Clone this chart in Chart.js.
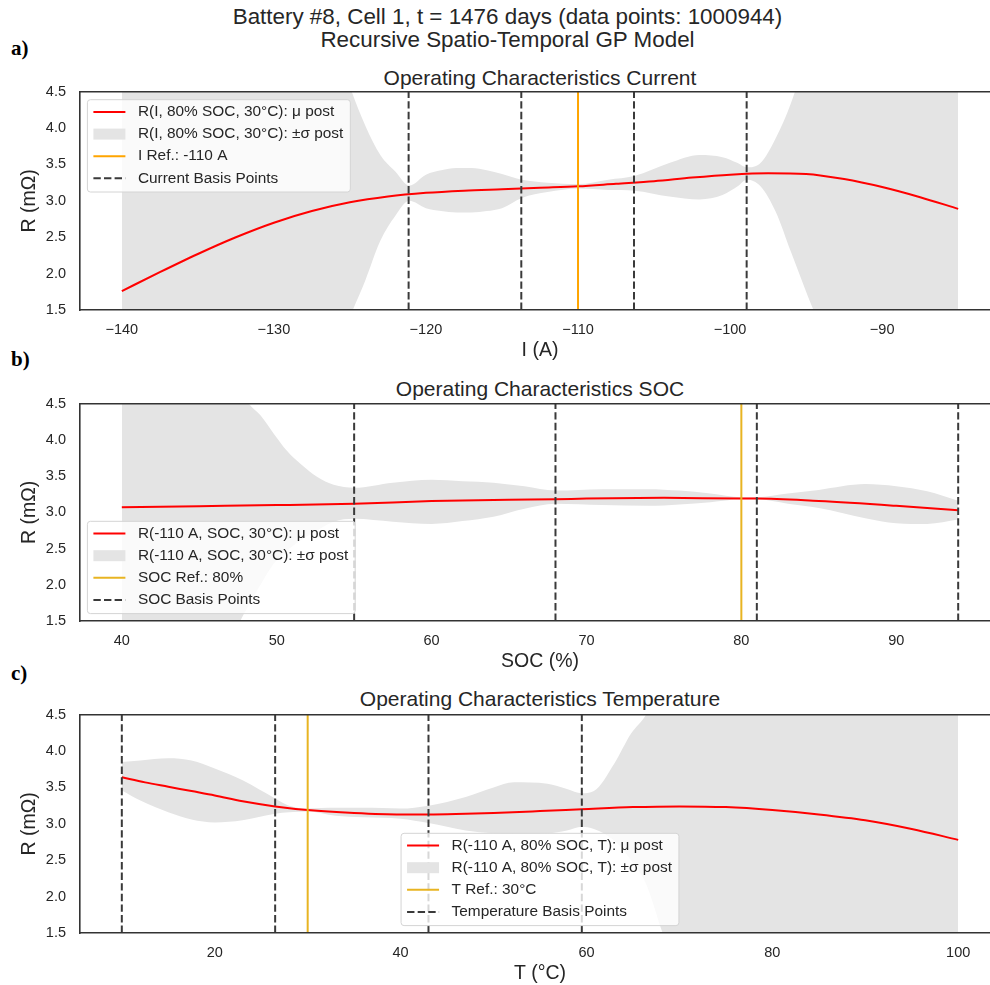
<!DOCTYPE html>
<html>
<head>
<meta charset="utf-8">
<script src="https://cdn.jsdelivr.net/npm/chart.js@4.4.0/dist/chart.umd.min.js"></script>
<style>
  html, body { margin: 0; padding: 0; background: #fff; overflow: hidden; width: 990px; height: 985px; }
  .t { position: absolute; font-family: "Liberation Sans", Arial, sans-serif; color: #262626; white-space: nowrap; }
  .lab { position: absolute; font-family: "Liberation Serif", "Times New Roman", serif; font-weight: bold; color: #000; font-size: 21px; line-height: 21px; }
  canvas { position: absolute; left: 0; }
</style>
</head>
<body>
<div class="t" style="left:0;width:1015px;top:5px;text-align:center;font-size:22.4px;line-height:23px">Battery #8, Cell 1, t = 1476 days (data points: 1000944)<br>Recursive Spatio-Temporal GP Model</div>
<div class="lab" style="left:11px;top:38px">a)</div>
<div class="lab" style="left:11px;top:349px">b)</div>
<div class="lab" style="left:11px;top:663px">c)</div>
<div class="t" style="left:80px;width:920px;top:67px;text-align:center;font-size:21px;line-height:21px">Operating Characteristics Current</div>
<div class="t" style="left:80px;width:920px;top:378px;text-align:center;font-size:21px;line-height:21px">Operating Characteristics SOC</div>
<div class="t" style="left:80px;width:920px;top:688px;text-align:center;font-size:21px;line-height:21px">Operating Characteristics Temperature</div>
<canvas id="chA" width="1000" height="295" style="top:69px"></canvas>
<canvas id="chB" width="1000" height="294" style="top:381px"></canvas>
<canvas id="chC" width="1000" height="295" style="top:692px"></canvas>
<script>
(function () {
  "use strict";

  // a) current
  var aX = [-140, -137.5, -135, -132.5, -130, -127.5, -125, -122.5, -120, -117.5, -115, -112.5, -110, -107.5, -105, -102.5, -100, -97.5, -95, -92.5, -90, -87.5, -85];
  var aMean = [1.76, 2.02, 2.27, 2.50, 2.70, 2.86, 2.98, 3.06, 3.11, 3.14, 3.16, 3.18, 3.20, 3.235, 3.27, 3.32, 3.36, 3.38, 3.37, 3.30, 3.19, 3.05, 2.89];
  var aBandX = [-140, -132, -128, -126, -125, -124, -123, -122, -121.1, -120, -119, -118, -117, -116, -115, -113.7, -112, -110, -108, -106.3, -104, -102, -100.5, -99.5, -98.9, -98, -97, -96, -95, -94, -90, -85];
  var aUpper = [20, 10, 6.6, 5.2, 4.57, 4.04, 3.63, 3.40, 3.21, 3.36, 3.42, 3.45, 3.45, 3.42, 3.37, 3.29, 3.25, 3.23, 3.29, 3.34, 3.52, 3.63, 3.60, 3.52, 3.46, 3.52, 3.86, 4.34, 5.0, 5.8, 9, 13];
  var aLower = [-14, -4, -0.6, 0.8, 1.4, 1.90, 2.45, 2.80, 3.00, 2.90, 2.86, 2.84, 2.84, 2.86, 2.90, 3.04, 3.12, 3.17, 3.15, 3.14, 3.06, 3.02, 3.08, 3.20, 3.29, 3.20, 2.85, 2.30, 1.75, 1.2, -2, -6];
  var aBasis = [-121.14, -113.73, -106.32, -98.91];
  var aRef = -110;
  var aTicks = [-140, -130, -120, -110, -100, -90];

  // b) SOC
  var bX = [40, 45, 50, 55, 60, 65, 68, 70, 75, 80, 81, 85, 90, 94];
  var bMean = [3.07, 3.085, 3.10, 3.12, 3.155, 3.175, 3.18, 3.19, 3.20, 3.19, 3.19, 3.155, 3.09, 3.03];
  var bBandX = [40, 45, 47, 47.65, 48.2, 48.95, 49.8, 50.66, 51.53, 52.6, 53.68, 55, 57.5, 60, 62, 64, 66, 68, 71, 74, 76, 78, 80, 81, 83, 85, 88, 90, 92, 94];
  var bUpper = [8, 5.5, 4.85, 4.68, 4.5, 4.34, 4.09, 3.85, 3.67, 3.49, 3.38, 3.34, 3.41, 3.45, 3.43, 3.41, 3.36, 3.30, 3.32, 3.32, 3.30, 3.26, 3.21, 3.21, 3.26, 3.31, 3.39, 3.36, 3.29, 3.16];
  var bLower = [-2, 0.4, 1.2, 1.5, 1.72, 2.0, 2.29, 2.47, 2.61, 2.75, 2.87, 2.91, 2.87, 2.84, 2.88, 2.94, 3.05, 3.12, 3.10, 3.09, 3.11, 3.14, 3.18, 3.18, 3.12, 3.06, 2.92, 2.85, 2.84, 2.90];
  var bBasis = [55, 68, 81, 94];
  var bRef = 80;
  var bTicks = [40, 50, 60, 70, 80, 90];

  // c) temperature
  var cX = [10, 12.5, 15, 17.5, 20, 23, 26.5, 30, 35, 40, 43, 47, 50, 55, 59.5, 65, 70, 75, 80, 85, 90, 95, 100];
  var cMean = [3.64, 3.57, 3.51, 3.45, 3.39, 3.31, 3.24, 3.19, 3.15, 3.13, 3.13, 3.14, 3.15, 3.175, 3.20, 3.23, 3.24, 3.23, 3.19, 3.13, 3.05, 2.93, 2.78];
  var cBandX = [10, 12, 15, 17.5, 20, 23, 26.5, 28, 30, 33, 36, 40, 43, 47, 50, 52.2, 55.8, 57.9, 59.5, 60.8, 63, 64.8, 66.4, 68.2, 70, 80, 100];
  var cUpper = [3.85, 3.87, 3.90, 3.87, 3.76, 3.60, 3.35, 3.25, 3.21, 3.22, 3.22, 3.21, 3.25, 3.37, 3.50, 3.57, 3.55, 3.48, 3.42, 3.45, 3.83, 4.24, 4.5, 5.0, 5.6, 9, 15];
  var cLower = [3.46, 3.32, 3.16, 3.06, 3.02, 3.05, 3.14, 3.16, 3.17, 3.11, 3.09, 3.07, 3.01, 2.91, 2.87, 2.86, 2.87, 2.91, 2.96, 2.93, 2.77, 2.50, 2.18, 1.5, 0.9, -2, -9];
  var cBasis = [10, 26.5, 43, 59.5];
  var cRef = 30;
  var cTicks = [20, 40, 60, 80, 100];

  var yTicks = [1.5, 2.0, 2.5, 3.0, 3.5, 4.0, 4.5];

  var TXT = "#262626", SPINE = "#333333", BAND = "#e4e4e4", RED = "#ff0000", BASIS = "#3a3a3a";
  var ORANGE = "#ffa500", GOLD = "#e8b422";
  var DASH = [7.4, 3.2];
  var FONTE = "'Liberation Sans', Arial, sans-serif";

  Chart.defaults.font.family = FONTE;
  Chart.defaults.color = TXT;

  function pts(xs, ys) { return xs.map(function (x, i) { return { x: x, y: ys[i] }; }); }
  function vline(x) { return [{ x: x, y: yTicks[0] }, { x: x, y: yTicks[yTicks.length - 1] }]; }
  function menos(v) { return String(v).replace("-", "\u2212"); }

  function caixa(ctx, x, y, w, h, r) {
    ctx.beginPath();
    ctx.moveTo(x + r, y);
    ctx.lineTo(x + w - r, y); ctx.arcTo(x + w, y, x + w, y + r, r);
    ctx.lineTo(x + w, y + h - r); ctx.arcTo(x + w, y + h, x + w - r, y + h, r);
    ctx.lineTo(x + r, y + h); ctx.arcTo(x, y + h, x, y + h - r, r);
    ctx.lineTo(x, y + r); ctx.arcTo(x, y, x + r, y, r);
    ctx.closePath();
  }

  // top spine + matplotlib-like legend inside the axes
  var moldura = {
    id: "moldura",
    afterDraw: function (chart, args, o) {
      var ctx = chart.ctx, a = chart.chartArea;
      ctx.save();
      ctx.strokeStyle = SPINE; ctx.lineWidth = 1.6;
      ctx.beginPath(); ctx.moveTo(a.left - 0.8, a.top); ctx.lineTo(a.right, a.top); ctx.stroke();
      if (o.items) {
        ctx.font = "15.4px " + FONTE;
        var w = 0;
        o.items.forEach(function (it) { w = Math.max(w, ctx.measureText(it.text).width); });
        var bw = 50.5 + w + 7, bh = 92.3;
        var x = o.loc === "lc" ? (a.left + a.right) / 2 - bw / 2 : a.left + 7.4;
        var y = o.loc === "ul" ? a.top + 8 : a.bottom - 7.4 - bh;
        caixa(ctx, x, y, bw, bh, 3);
        ctx.fillStyle = "rgba(255,255,255,0.8)"; ctx.fill();
        ctx.lineWidth = 1; ctx.strokeStyle = "#d4d4d4"; ctx.stroke();
        o.items.forEach(function (it, i) {
          var cy = y + 12.3 + i * 22.1;
          if (it.patch) {
            ctx.fillStyle = BAND; ctx.fillRect(x + 6, cy - 5.5, 32, 11);
          } else {
            ctx.setLineDash(it.dash || []);
            ctx.strokeStyle = it.color; ctx.lineWidth = 2;
            ctx.beginPath(); ctx.moveTo(x + 6, cy); ctx.lineTo(x + 38, cy); ctx.stroke();
            ctx.setLineDash([]);
          }
          ctx.fillStyle = TXT; ctx.textBaseline = "middle"; ctx.textAlign = "left";
          ctx.fillText(it.text, x + 50.5, cy);
        });
      }
      ctx.restore();
    }
  };

  function painel(id, o) {
    var ds = [];
    o.basis.forEach(function (b) {
      ds.push({ data: vline(b), borderColor: BASIS, borderWidth: 2, borderDash: DASH, pointRadius: 0, fill: false });
    });
    ds.push({ data: vline(o.ref), borderColor: o.refColor, borderWidth: 2, pointRadius: 0, fill: false });
    ds.push({ data: pts(o.x, o.mean), borderColor: RED, borderWidth: 2, pointRadius: 0, fill: false, cubicInterpolationMode: "monotone" });
    ds.push({ data: pts(o.bandX, o.upper), borderColor: "rgba(0,0,0,0)", borderWidth: 0, pointRadius: 0, fill: "+1", backgroundColor: BAND, cubicInterpolationMode: "monotone" });
    ds.push({ data: pts(o.bandX, o.lower), borderColor: "rgba(0,0,0,0)", borderWidth: 0, pointRadius: 0, fill: false, cubicInterpolationMode: "monotone" });

    new Chart(document.getElementById(id), {
      type: "line",
      data: { datasets: ds },
      options: {
        responsive: false,
        animation: false,
        devicePixelRatio: 1,
        elements: { line: { capBezierPoints: false } },
        layout: { padding: 0 },
        plugins: { legend: { display: false }, tooltip: { enabled: false }, moldura: { loc: o.loc, items: o.items } },
        scales: {
          x: {
            type: "linear", min: o.range[0], max: o.range[1],
            afterBuildTicks: function (s) { s.ticks = o.ticks.map(function (v) { return { value: v }; }); },
            ticks: { padding: 11, maxRotation: 0, autoSkip: false, color: TXT, font: { size: 14.5 }, callback: function (v) { return menos(v); } },
            grid: { display: false, drawTicks: false },
            border: { display: true, color: SPINE, width: 1.6, z: 1 },
            title: { display: true, text: o.xTitle, color: TXT, font: { size: 19.5 }, padding: { top: 0, bottom: 2 } },
            afterFit: function (s) { s.height = 54; }
          },
          y: {
            min: 1.5, max: 4.5,
            afterBuildTicks: function (s) { s.ticks = yTicks.map(function (v) { return { value: v }; }); },
            ticks: { padding: 14, color: TXT, font: { size: 14.5 }, callback: function (v) { return v.toFixed(1); } },
            grid: { display: false, drawTicks: false },
            border: { display: true, color: SPINE, width: 1.6, z: 1 },
            title: { display: true, text: "R (m\u03a9)", color: TXT, font: { size: 19.5 }, padding: { top: 17.5, bottom: 0 } },
            afterFit: function (s) { s.width = 80; }
          }
        }
      },
      plugins: [moldura]
    });
  }

  painel("chA", {
    x: aX, mean: aMean, bandX: aBandX, upper: aUpper, lower: aLower,
    basis: aBasis, ref: aRef, refColor: ORANGE, ticks: aTicks, range: [-142.75, -82.25],
    xTitle: "I (A)", loc: "ul",
    items: [
      { color: RED, text: "R(I, 80% SOC, 30\u00b0C): \u03bc post" },
      { patch: true, text: "R(I, 80% SOC, 30\u00b0C): \u00b1\u03c3 post" },
      { color: ORANGE, text: "I Ref.: -110 A" },
      { color: BASIS, dash: DASH, text: "Current Basis Points" }
    ]
  });

  painel("chB", {
    x: bX, mean: bMean, bandX: bBandX, upper: bUpper, lower: bLower,
    basis: bBasis, ref: bRef, refColor: GOLD, ticks: bTicks, range: [37.3, 96.7],
    xTitle: "SOC (%)", loc: "ll",
    items: [
      { color: RED, text: "R(-110 A, SOC, 30\u00b0C): \u03bc post" },
      { patch: true, text: "R(-110 A, SOC, 30\u00b0C): \u00b1\u03c3 post" },
      { color: GOLD, text: "SOC Ref.: 80%" },
      { color: BASIS, dash: DASH, text: "SOC Basis Points" }
    ]
  });

  painel("chC", {
    x: cX, mean: cMean, bandX: cBandX, upper: cUpper, lower: cLower,
    basis: cBasis, ref: cRef, refColor: GOLD, ticks: cTicks, range: [5.5, 104.5],
    xTitle: "T (\u00b0C)", loc: "lc",
    items: [
      { color: RED, text: "R(-110 A, 80% SOC, T): \u03bc post" },
      { patch: true, text: "R(-110 A, 80% SOC, T): \u00b1\u03c3 post" },
      { color: GOLD, text: "T Ref.: 30\u00b0C" },
      { color: BASIS, dash: DASH, text: "Temperature Basis Points" }
    ]
  });
})();
</script>
</body>
</html>
